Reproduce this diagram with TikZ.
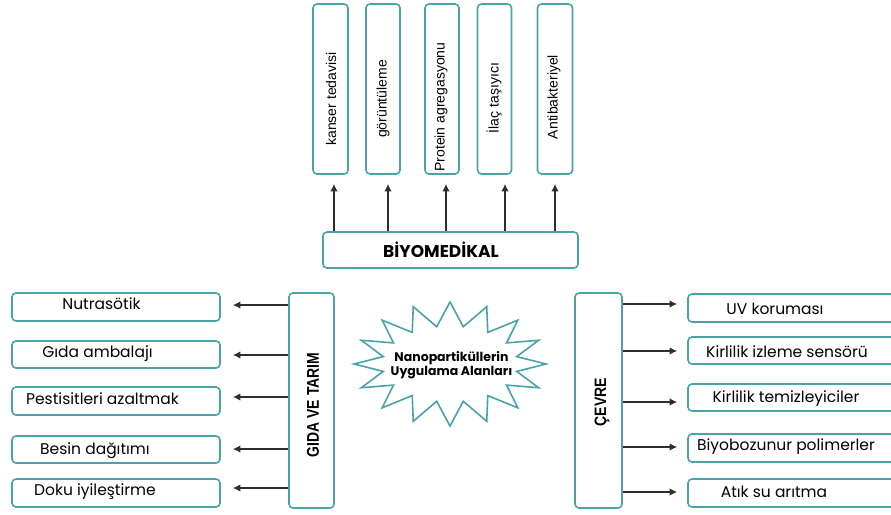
\documentclass[tikz,border=0pt]{standalone}
\usepackage{fontspec}
\setmainfont{Liberation Sans}
\newfontfamily\popp{Poppins}
\usetikzlibrary{arrows.meta,calc}
\definecolor{teal1}{HTML}{4AA3A9}
\definecolor{arrowc}{HTML}{2E2E2E}
\tikzset{
  box/.style={draw=teal1, line width=1.6pt, rounded corners=4pt, fill=white, inner sep=0pt},
  arr/.style={draw=arrowc, line width=1.6pt, -{Latex[length=7.5pt,width=7.5pt]}},
  sidelbl/.style={font=\popp\fontsize{15.5}{17}\selectfont, inner sep=0pt, anchor=center},
  vlbl/.style={font=\fontsize{14}{16}\selectfont, rotate=90, inner sep=0pt},
}
\begin{document}
\begin{tikzpicture}[x=1pt,y=1pt]
\useasboundingbox (0,0) rectangle (891,-514);
% top boxes
\node[box, minimum width=35pt, minimum height=170pt] (t1) at (330.5,-89) {};
\node[box, minimum width=34pt, minimum height=170pt] (t2) at (383,-89) {};
\node[box, minimum width=34pt, minimum height=170pt] (t3) at (442,-89) {};
\node[box, minimum width=34pt, minimum height=170pt] (t4) at (494.5,-89) {};
\node[box, minimum width=35pt, minimum height=170pt] (t5) at (555,-89) {};
\node[vlbl] (t1l) at (331,-99) {kanser tedavisi};
\node[vlbl] (t2l) at (383,-99) {görüntüleme};
\node[vlbl] (t3l) at (441,-107) {Protein agregasyonu};
\node[vlbl] (t4l) at (494,-98) {İlaç taşıyıcı};
\node[vlbl] (t5l) at (554,-97) {Antibakteriyel};
% biyomedikal
\node[box, minimum width=255pt, minimum height=36pt] (bio) at (450.5,-250) {};
\node[font=\popp\bfseries\fontsize{17}{19}\selectfont, inner sep=0pt] (biol) at (441,-250) {BİYOMEDİKAL};
\foreach \i/\dx in {1/3.5,2/5,3/4,4/10.5,5/0}{
  \draw[arr, shorten >=9pt] ([xshift=\dx pt]t\i.south |- bio.north) -- ([xshift=\dx pt]t\i.south);
}
% gida
\node[box, minimum width=45pt, minimum height=215pt] (gida) at (311.5,-400.5) {};
\node[font=\bfseries\fontsize{17}{19}\selectfont, rotate=90, inner sep=0pt, xscale=0.82] (gidal) at (313,-405) {GIDA VE TARIM};
% left boxes
\node[box, minimum width=208pt, minimum height=28pt] (l1) at (116,-307) {};
\node[box, minimum width=208pt, minimum height=27pt] (l2) at (116,-354.5) {};
\node[box, minimum width=208pt, minimum height=28pt] (l3) at (116,-401) {};
\node[box, minimum width=208pt, minimum height=27pt] (l4) at (116,-449.5) {};
\node[box, minimum width=208pt, minimum height=28pt] (l5) at (116,-493) {};
\node[sidelbl] (l1l) at (101.5,-304) {Nutrasötik};
\node[sidelbl] (l2l) at (97.5,-354) {Gıda ambalajı};
\node[sidelbl] (l3l) at (102.5,-399) {Pestisitleri azaltmak};
\node[sidelbl] (l4l) at (95,-451) {Besin dağıtımı};
\node[sidelbl] (l5l) at (95,-492) {Doku iyileştirme};
\foreach \i/\dy in {1/2,2/-0.5,3/4,4/0.5,5/5}{
  \draw[arr, shorten >=12pt] ([yshift=\dy pt]gida.west |- l\i.east) -- ([yshift=\dy pt]l\i.east);
}
% cevre
\node[box, minimum width=47pt, minimum height=215pt] (cevre) at (598.5,-400.5) {};
\node[font=\bfseries\fontsize{16.5}{18}\selectfont, rotate=90, inner sep=0pt, xscale=0.85] (cevrel) at (602,-402) {ÇEVRE};
% right boxes
\node[box, minimum width=215pt, minimum height=28pt] (r1) at (795.5,-308) {};
\node[box, minimum width=215pt, minimum height=27pt] (r2) at (795.5,-350.5) {};
\node[box, minimum width=215pt, minimum height=27pt] (r3) at (795.5,-397.5) {};
\node[box, minimum width=215pt, minimum height=28pt] (r4) at (795.5,-448) {};
\node[box, minimum width=215pt, minimum height=28pt] (r5) at (795.5,-493) {};
\node[sidelbl] (r1l) at (775,-309) {UV koruması};
\node[sidelbl] (r2l) at (787,-352) {Kirlilik izleme sensörü};
\node[sidelbl] (r3l) at (786,-399) {Kirlilik temizleyiciler};
\node[sidelbl] (r4l) at (786,-447) {Biyobozunur polimerler};
\node[sidelbl] (r5l) at (774,-492) {Atık su arıtma};
\foreach \i/\dy in {1/4,2/-0.5,3/-4.5,4/1,5/1}{
  \draw[arr, shorten >=10pt] ([yshift=\dy pt]cevre.east |- r\i.west) -- ([yshift=\dy pt]r\i.west);
}
% starburst
\begin{scope}[shift={(450,-364)}]
\draw[draw=teal1, line width=1.6pt, fill=white, line join=miter]
  (90:96 and 62) \foreach \k in {1,...,31}{
    -- ({90+\k*11.25}:{ifthenelse(mod(\k,2)==0,96,68)} and {ifthenelse(mod(\k,2)==0,62,38)})
  } -- cycle;
\end{scope}
\node[font=\popp\bfseries\fontsize{12.5}{14}\selectfont, align=center, inner sep=0pt] (sl) at (451.5,-365) {Nanopartiküllerin\\Uygulama Alanları};
\end{tikzpicture}
\end{document}
